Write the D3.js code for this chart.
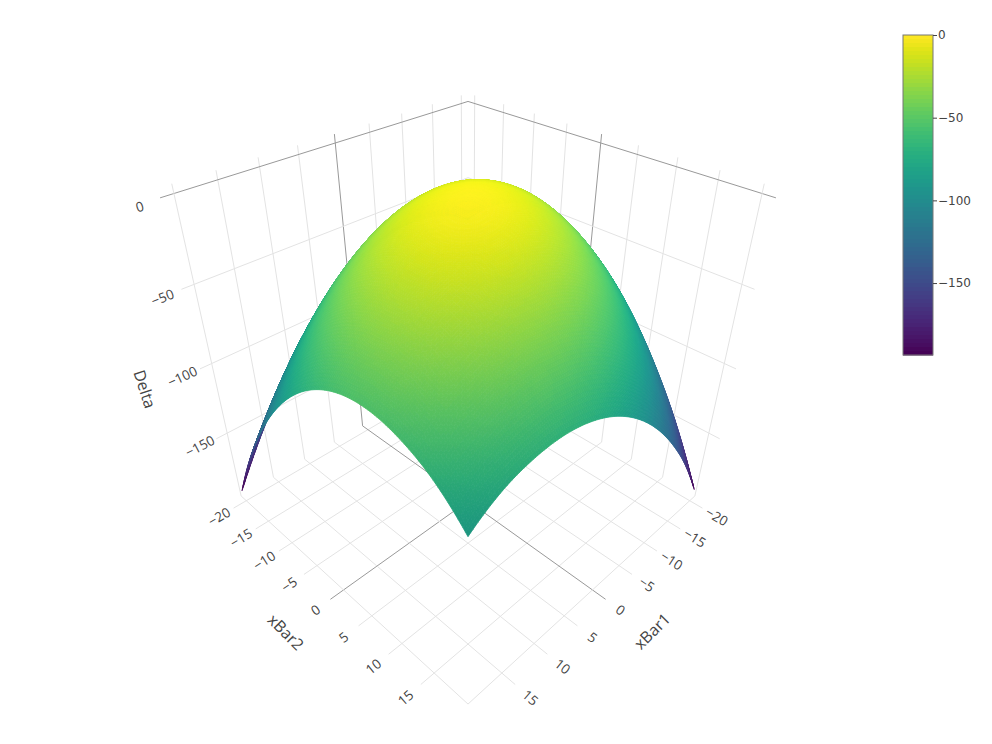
<!DOCTYPE html>
<html><head><meta charset="utf-8">
<script src="https://cdn.jsdelivr.net/npm/d3@7"></script>
<style>html,body{margin:0;background:#fff}svg{display:block}text{font-family:"Open Sans",sans-serif;fill:#444}</style>
</head><body><svg id="c" width="992" height="744"></svg>
<script>
const xBar1Values=[-20.6,-16.55,-12.5,-8.45,-4.4,-0.35,3.7,7.75,11.8,15.85,19.9];
const xBar2Values=[-20.6,-16.55,-12.5,-8.45,-4.4,-0.35,3.7,7.75,11.8,15.85,19.9];
// Delta: one row per xBar2 value, one column per xBar1 value
const deltaRows=[
[-78.1,-68.8,-64.1,-64.1,-68.7,-77.9,-91.8,-110.3,-133.5,-161.3,-194.5],
[-62.6,-51.1,-44.2,-41.9,-44.2,-51.2,-62.9,-79.2,-100.1,-125.6,-155.8],
[-53.1,-39.3,-30.2,-25.7,-25.8,-30.5,-39.9,-54.0,-72.7,-96.0,-123.9],
[-49.6,-33.6,-22.2,-15.4,-13.3,-15.8,-23.0,-34.8,-51.2,-72.3,-98.0],
[-52.0,-33.7,-20.1,-11.1,-6.7,-7.0,-11.9,-21.5,-35.7,-54.5,-78.0],
[-60.4,-39.9,-24.0,-12.8,-6.2,-4.2,-6.9,-14.2,-26.2,-42.8,-64.0],
[-74.7,-52.0,-33.9,-20.4,-11.5,-7.3,-7.8,-12.9,-22.6,-36.9,-55.9],
[-95.0,-70.0,-49.7,-34.0,-22.9,-16.4,-14.6,-17.5,-25.0,-37.1,-53.8],
[-121.3,-94.1,-71.5,-53.5,-40.2,-31.5,-27.5,-28.1,-33.3,-43.2,-57.7],
[-153.5,-124.0,-99.2,-79.0,-63.4,-52.5,-46.2,-44.6,-47.6,-55.2,-67.5],
[-193.5,-160.0,-132.9,-110.5,-92.7,-79.5,-71.0,-67.1,-67.9,-73.3,-85.0]];
const axisTicks=[-20,-15,-10,-5,0,5,10,15];
const deltaTicks=[0,-50,-100,-150];
const axisRange=[-21.2,19.9];
const deltaRange=[-201,-1];
const colorRange=[-193.5,0];

const svg=d3.select("#c");
const W1=d3.scaleLinear().domain(axisRange).range([-1,1]);
const W2=d3.scaleLinear().domain(axisRange).range([-1,1]);
const Zh=d3.scaleLinear().domain(deltaRange).range([-1,1]);
const color=d3.scaleSequential(d3.interpolateViridis).domain(colorRange);
const cam={cx:468,cy:365,f:181,D:4.5,c:Math.sqrt(2/3),S:Math.sqrt(1/3)};
function project(w1,w2,z){
  const t=(w1+w2)/Math.SQRT2,s=(w1-w2)/Math.SQRT2;
  const d=1-(cam.c*t+cam.S*z)/cam.D;
  return [cam.cx-cam.f*s/d,cam.cy-cam.f*(cam.c*z-cam.S*t)/d,d];
}
const line=d3.line();
const gGrid=svg.append("g").attr("fill","none");
function drawLine(pts,col){gGrid.append("path").attr("d",line(pts.map(p=>project(...p).slice(0,2)))).attr("stroke",col).attr("stroke-width",1);}
const LIGHT="#e3e3e3",DARK="#999999",EXT=0.09,TOP=1+0.06;
axisTicks.forEach(v=>{const w=W2(v),col=v===0?DARK:LIGHT;
  drawLine([[1+EXT,w,-1],[-1,w,-1],[-1,w,TOP]],col);});
axisTicks.forEach(v=>{const w=W1(v),col=v===0?DARK:LIGHT;
  drawLine([[w,1+EXT,-1],[w,-1,-1],[w,-1,TOP]],col);});
deltaTicks.forEach(v=>{const z=Zh(v),col=v===0?DARK:LIGHT;
  drawLine([[1+EXT*.8,-1,z],[-1,-1,z],[-1,1+EXT*.8,z]],col);});
drawLine([[-1,1,TOP],[-1,1,-1],[1,1,-1],[1,-1,-1],[1,-1,TOP]],LIGHT);

// surface: smooth resampling of the table for drawing
function cr(p0,p1,p2,p3,u){return 0.5*(2*p1+(p2-p0)*u+(2*p0-5*p1+4*p2-p3)*u*u+(3*p1-p0-3*p2+p3)*u*u*u);}
function at(arr,i){const n=arr.length;
  if(i<0)return 3*arr[0]-3*arr[1]+arr[2];
  if(i>=n)return 3*arr[n-1]-3*arr[n-2]+arr[n-3];
  return arr[i];}
function sample1(arr,x){const i=Math.min(Math.floor(x),arr.length-2),u=x-i;return cr(at(arr,i-1),at(arr,i),at(arr,i+1),at(arr,i+2),u);}
function sampleDelta(a,b){
  const j=Math.min(Math.floor(b),deltaRows.length-2),v=b-j;
  const row=k=>{ if(k<0)return 3*row(0)-3*row(1)+row(2);
    if(k>=deltaRows.length){const n=deltaRows.length;return 3*row(n-1)-3*row(n-2)+row(n-3);}
    return sample1(deltaRows[k],a);};
  return cr(row(j-1),row(j),row(j+1),row(j+2),v);
}
const SUB=14,N=(xBar1Values.length-1)*SUB;
const idxA=d3.scaleLinear().domain(d3.range(xBar1Values.length)).range(xBar1Values);
const idxB=d3.scaleLinear().domain(d3.range(xBar2Values.length)).range(xBar2Values);
const verts=[];
for(let b=0;b<=N;b++){const r=[];for(let a=0;a<=N;a++){
  const ia=a/SUB,ib=b/SUB;
  r.push({w1:W1(idxA(ia)),w2:W2(idxB(ib)),z:sampleDelta(ia,ib)});}verts.push(r);}
const eye=cam.D*cam.c/Math.SQRT2;
const quads=[];
for(let b=0;b<N;b++)for(let a=0;a<N;a++){
  const q=[verts[b][a],verts[b][a+1],verts[b+1][a+1],verts[b+1][a]];
  const ps=q.map(v=>project(v.w1,v.w2,Zh(v.z)));
  const du=((q[1].z-q[0].z)/(q[1].w1-q[0].w1))/100, dv=((q[3].z-q[0].z)/(q[3].w2-q[0].w2))/100;
  const zm=d3.mean(q,v=>v.z),wa=d3.mean(q,v=>v.w1),wb=d3.mean(q,v=>v.w2),zh=Zh(zm);
  const vx=eye-wa,vy=eye-wb,vz=cam.D*cam.S-zh,vl=Math.hypot(vx,vy,vz),nl=Math.hypot(du,dv,1);
  const nv=Math.max(0,(-du*vx-dv*vy+vz)/(vl*nl));
  quads.push({ps,z:zm,nv,t:(wa+wb)/Math.SQRT2,depth:d3.mean(ps,p=>p[2])});
}
quads.sort((p,q)=>d3.descending(p.depth,q.depth));
function lit(d){const c=d3.rgb(color(d.z)),k=(1.05-0.085*d.t)*(0.94+0.06*Math.min(1,d.nv/0.15));
  return d3.rgb(Math.min(255,c.r*k),Math.min(255,c.g*k),Math.min(255,c.b*k)).formatRgb();}
svg.append("g").selectAll("path").data(quads).join("path")
  .attr("d",q=>line(q.ps.map(p=>p.slice(0,2)))+"Z")
  .attr("fill",lit).attr("stroke",lit).attr("stroke-width",0.8);

// labels
const fmt=v=>String(v).replace("-","\u2212");
function label(txt,p,angle,size){svg.append("text").text(txt)
  .attr("transform",`translate(${p[0]},${p[1]}) rotate(${angle})`)
  .attr("text-anchor","middle").attr("dominant-baseline","central").attr("font-size",size);}
const deg=(a,b)=>Math.atan2(b[1]-a[1],b[0]-a[0])*180/Math.PI;
const LBL=0.19,TICKF=13.5;
axisTicks.forEach(v=>{const w=W2(v),p=project(1+LBL,w,-1);
  label(fmt(v),p,deg(project(1,w,-1),project(0.8,w,-1)),TICKF);});
axisTicks.forEach(v=>{const w=W1(v),p=project(w,1+LBL,-1);
  label(fmt(v),p,deg(project(w,0.8,-1),project(w,1,-1)),TICKF);});
deltaTicks.forEach(v=>{const z=Zh(v),p=project(1.13,-1.13,z);
  label(fmt(v),[p[0]+4,p[1]+13],deg(project(1,-1,z),project(0.6,-1,z)),TICKF);});
label("xBar2",[286,632],45,16);
label("xBar1",[652,631],-45,16);
label("Delta",[145,389],72,16);

// colorbar
const cbY=d3.scaleLinear().domain(colorRange).range([355,35]);
const cb=svg.append("g");
cb.selectAll("rect").data(d3.range(0,80)).join("rect")
  .attr("x",903).attr("width",30)
  .attr("y",i=>35+i*4).attr("height",4.5)
  .attr("fill",i=>color(cbY.invert(35+i*4+2)));
cb.append("rect").attr("x",903).attr("y",35).attr("width",30).attr("height",320)
  .attr("fill","none").attr("stroke","#777").attr("stroke-width",1);
const ax=svg.append("g").attr("transform","translate(933,0)")
  .call(d3.axisRight(cbY).tickValues(deltaTicks).tickSize(4).tickPadding(1).tickFormat(fmt));
ax.select(".domain").remove();
ax.selectAll("line").attr("stroke","#444");
ax.selectAll("text").style("font-family","'DejaVu Sans'").attr("font-size",12).style("fill","#444");
</script></body></html>
